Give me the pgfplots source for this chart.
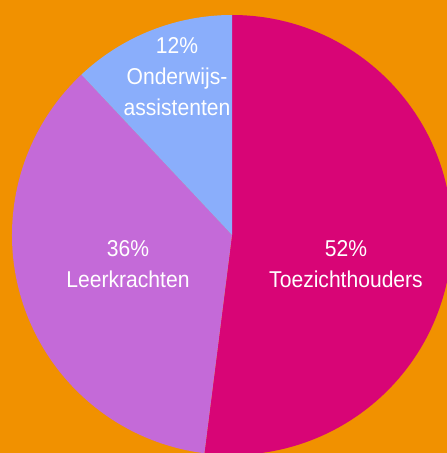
\documentclass[border=0pt]{standalone}
\usepackage{pgfplots}
\pgfplotsset{compat=1.18}
\usepackage{pgfplotstable}
\usepackage{fontspec}
\setmainfont[FakeStretch=0.92]{Liberation Sans}
\definecolor{bgorange}{HTML}{F19100}
\definecolor{cmag}{HTML}{D80576}
\definecolor{cpurp}{HTML}{C46AD8}
\definecolor{cblue}{HTML}{8AAEFB}
% shares in percent
\pgfplotstableread{
name pct
Toezichthouders 52
Leerkrachten 36
Onderwijsassistenten 12
}\piedata
\pgfplotstablegetelem{0}{pct}\of\piedata\let\pA\pgfplotsretval
\pgfplotstablegetelem{1}{pct}\of\piedata\let\pB\pgfplotsretval
\pgfplotstablegetelem{2}{pct}\of\piedata\let\pC\pgfplotsretval
\begin{document}
\begin{tikzpicture}
\pgfmathsetmacro{\aA}{90}
\pgfmathsetmacro{\aB}{90-3.6*\pA}
\pgfmathsetmacro{\aC}{\aB-3.6*\pB}
\pgfmathsetmacro{\aD}{\aC-3.6*\pC}
\begin{axis}[
  width=447bp, height=453bp, scale only axis,
  xmin=-232, xmax=215, ymin=-218, ymax=235,
  hide axis, clip=true,
]
\fill[bgorange] (rel axis cs:0,0) rectangle (rel axis cs:1,1);
\fill[cmag] (axis cs:0,0) -- (axis cs:{220*cos(\aA)},{220*sin(\aA)}) arc[start angle=\aA, end angle=\aB, radius=220] -- cycle;
\fill[cpurp] (axis cs:0,0) -- (axis cs:{220*cos(\aB)},{220*sin(\aB)}) arc[start angle=\aB, end angle=\aC, radius=220] -- cycle;
\fill[cblue] (axis cs:0,0) -- (axis cs:{220*cos(\aC)},{220*sin(\aC)}) arc[start angle=\aC, end angle=\aD, radius=220] -- cycle;
\node[white, align=center, font=\fontsize{23}{31}\selectfont] at (axis cs:-55,158) {\pC\%\\Onderwijs-\\assistenten};
\node[white, align=center, font=\fontsize{23}{31}\selectfont] at (axis cs:-104,-29) {\pB\%\\Leerkrachten};
\node[white, align=center, font=\fontsize{23}{31}\selectfont] at (axis cs:114,-29) {\pA\%\\Toezichthouders};
\end{axis}
\end{tikzpicture}
\end{document}
